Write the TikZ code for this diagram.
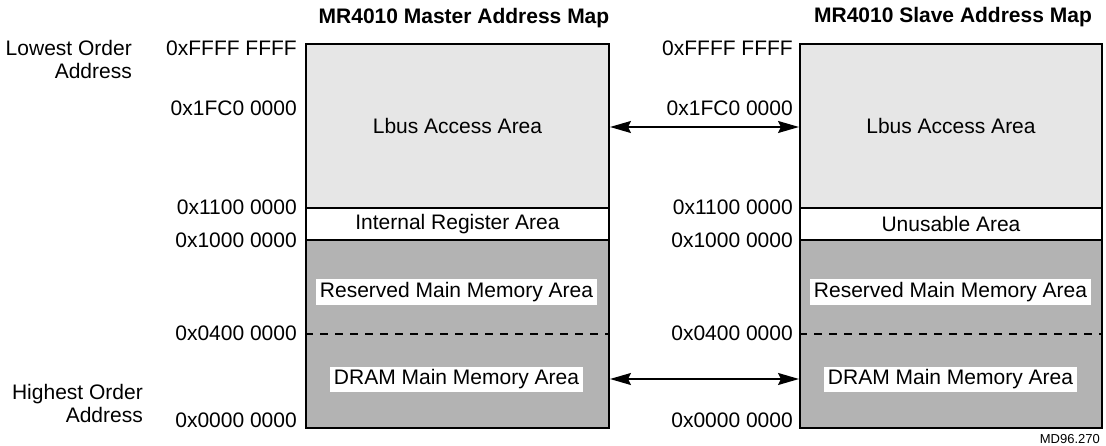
\documentclass[tikz,border=0pt]{standalone}
\usepackage{fontspec}
\setmainfont{Liberation Sans}
\usetikzlibrary{arrows.meta}
\definecolor{lightarea}{HTML}{E6E6E6}
\definecolor{darkarea}{HTML}{B3B3B3}
\newcommand{\lblfont}{\fontsize{21}{23}\selectfont}
\newcommand{\ttlfont}{\fontsize{21}{23}\selectfont\bfseries}
\begin{document}
\begin{tikzpicture}[x=1pt,y=-1pt,
  region/.style={draw, line width=2pt, anchor=north west, inner sep=0pt, font=\lblfont},
  addr/.style={anchor=east, inner sep=0pt, font=\lblfont},
  side/.style={anchor=east, align=right, inner sep=0pt, font=\lblfont},
  tag/.style={fill=white, inner xsep=3.5pt, inner ysep=3pt, font=\lblfont},
  title/.style={inner sep=0pt, font=\ttlfont},
  divider/.style={line width=2pt, dash pattern=on 8pt off 7pt},
  biarrow/.style={line width=1.8pt, {Stealth[length=21pt,width=12pt,inset=3pt]}-{Stealth[length=21pt,width=12pt,inset=3pt]}}
]
\useasboundingbox (0,0) rectangle (1106,446);

% titles
\node[title] (tm) at (464,18) {MR4010 Master Address Map};
\node[title] (ts) at (953,17) {MR4010 Slave Address Map};

% side labels
\node[side] (low) at (132,59) {Lowest Order\\Address};
\node[side] (high) at (143,403.5) {Highest Order\\Address};

% master map
\node[region, fill=lightarea, minimum width=303pt, minimum height=164pt] (mlbus) at (305,43) {Lbus Access Area};
\node[region, fill=white, minimum width=303pt, minimum height=32pt] (mint) at (305,207) {Internal Register Area};
\node[region, fill=darkarea, minimum width=303pt, minimum height=188pt] (mmem) at (305,239) {};
\coordinate (ydash) at (0,334);
\draw[divider] (mmem.west |- ydash) -- (mmem.east |- ydash);
\node[tag] (mres) at (456.5,292) {Reserved Main Memory Area};
\node[tag] (mdram) at (456.5,379.5) {DRAM Main Memory Area};

% slave map
\node[region, fill=lightarea, minimum width=302pt, minimum height=164pt] (slbus) at (799,43) {Lbus Access Area};
\node[region, fill=white, minimum width=302pt, minimum height=32pt] (sun) at (799,207) {Unusable Area};
\node[region, fill=darkarea, minimum width=302pt, minimum height=188pt] (smem) at (799,239) {};
\draw[divider] (smem.west |- ydash) -- (smem.east |- ydash);
\node[tag] (sres) at (950.5,292) {Reserved Main Memory Area};
\node[tag] (sdram) at (950.5,379.5) {DRAM Main Memory Area};

% master addresses
\node[addr] (ma1) at (297,48) {0xFFFF FFFF};
\node[addr] (ma2) at (297,108) {0x1FC0 0000};
\node[addr] (ma3) at (297,207) {0x1100 0000};
\node[addr] (ma4) at (297,240) {0x1000 0000};
\node[addr] (ma5) at (297,333) {0x0400 0000};
\node[addr] (ma6) at (297,420) {0x0000 0000};

% slave addresses
\node[addr] (sa1) at (793,48) {0xFFFF FFFF};
\node[addr] (sa2) at (793,108) {0x1FC0 0000};
\node[addr] (sa3) at (793,207) {0x1100 0000};
\node[addr] (sa4) at (793,240) {0x1000 0000};
\node[addr] (sa5) at (793,333) {0x0400 0000};
\node[addr] (sa6) at (793,420) {0x0000 0000};

% arrows
\coordinate (yup) at (0,127);
\coordinate (ydown) at (0,379);
\draw[biarrow] (mlbus.east |- yup) -- (slbus.west |- yup);
\draw[biarrow] (mmem.east |- ydown) -- (smem.west |- ydown);

% figure id
\node[anchor=east, inner sep=0pt, font=\fontsize{13}{15}\selectfont] (fid) at (1100,439) {MD96.270};
\end{tikzpicture}
\end{document}
